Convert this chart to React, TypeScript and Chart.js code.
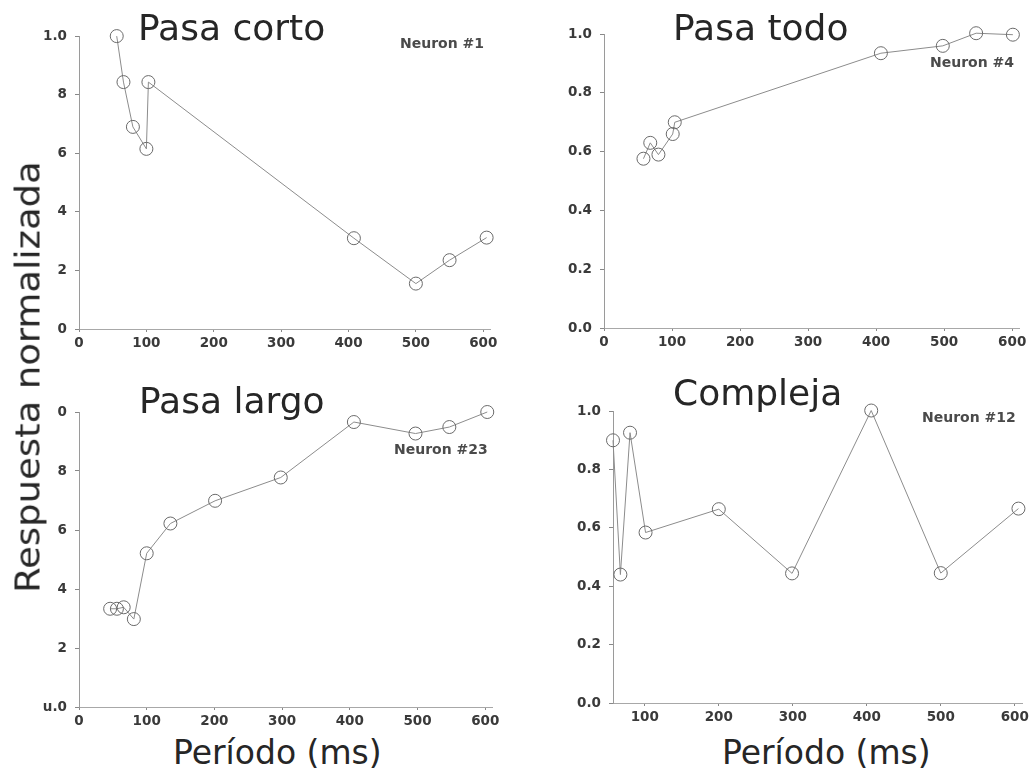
import { useEffect, useRef } from "react";
import { Chart, registerables } from "chart.js";

Chart.register(...registerables);

// ---------- data ----------
const xTicksFull = [0, 100, 200, 300, 400, 500, 600];
const xTicksFrom100 = [100, 200, 300, 400, 500, 600];
const yTickValues = [0, 0.2, 0.4, 0.6, 0.8, 1.0];

const cortoX = [56, 66, 80, 100, 103, 408, 500, 550, 605];
const cortoY = [1.0, 0.843, 0.69, 0.615, 0.843, 0.31, 0.155, 0.235, 0.312];

const todoX = [58, 68, 80, 101, 104, 407, 498, 547, 601];
const todoY = [0.576, 0.63, 0.59, 0.66, 0.70, 0.935, 0.96, 1.003, 0.998];

const largoX = [46, 56, 66, 81, 100, 135, 201, 298, 406, 497, 547, 603];
const largoY = [0.333, 0.333, 0.338, 0.298, 0.521, 0.622, 0.699, 0.778, 0.966, 0.927, 0.949, 1.0];

const complejaX = [57, 67, 80, 101, 200, 299, 406, 500, 605];
const complejaY = [0.9, 0.44, 0.926, 0.584, 0.664, 0.444, 1.002, 0.445, 0.666];

const yLabelsCorto = ["0", "2", "4", "6", "8", "1.0"];
const yLabelsTodo = ["0.0", "0.2", "0.4", "0.6", "0.8", "1.0"];
const yLabelsLargo = ["u.0", "2", "4", "6", "8", "0"];
const yLabelsCompleja = ["0.0", "0.2", "0.4", "0.6", "0.8", "1.0"];

const titles = ["Pasa corto", "Pasa todo", "Pasa largo", "Compleja"];
const neurons = ["Neuron #1", "Neuron #4", "Neuron #23", "Neuron #12"];
const yAxisTitle = "Respuesta normalizada";
const xAxisTitle = "Período (ms)";

// ---------- layout ----------
type Box = { left: number; top: number; width: number; height: number };
type Area = { left: number; top: number; right: number; bottom: number };
type PanelDef = {
  xs: number[];
  ys: number[];
  xMin: number;
  xMax: number;
  xTicks: number[];
  yLabels: string[];
  box: Box;
  area: Area;
};

const panels: PanelDef[] = [
  {
    xs: cortoX, ys: cortoY, xMin: 0, xMax: 610, xTicks: xTicksFull, yLabels: yLabelsCorto,
    box: { left: 40, top: 20, width: 470, height: 345 },
    area: { left: 79, top: 35, right: 490, bottom: 329 },
  },
  {
    xs: todoX, ys: todoY, xMin: 0, xMax: 610, xTicks: xTicksFull, yLabels: yLabelsTodo,
    box: { left: 565, top: 18, width: 467, height: 347 },
    area: { left: 604, top: 33, right: 1019, bottom: 328 },
  },
  {
    xs: largoX, ys: largoY, xMin: 0, xMax: 610, xTicks: xTicksFull, yLabels: yLabelsLargo,
    box: { left: 40, top: 395, width: 470, height: 335 },
    area: { left: 79, top: 412, right: 492, bottom: 707 },
  },
  {
    xs: complejaX, ys: complejaY, xMin: 57, xMax: 610, xTicks: xTicksFrom100, yLabels: yLabelsCompleja,
    box: { left: 565, top: 395, width: 467, height: 335 },
    area: { left: 613, top: 410, right: 1023, bottom: 703 },
  },
];

const FONT = "'DejaVu Sans', Verdana, sans-serif";

function Panel({ def }: { def: PanelDef }) {
  const ref = useRef<HTMLCanvasElement | null>(null);
  useEffect(() => {
    if (!ref.current) return;
    const { box, area } = def;
    const yW = area.left - box.left;
    const padTop = area.top - box.top;
    const padRight = box.left + box.width - area.right;
    const xH = box.top + box.height - area.bottom;
    const tickFont = { family: FONT, size: 13.5, weight: "bold" as const };
    const chart = new Chart(ref.current, {
      type: "scatter",
      data: {
        datasets: [
          {
            data: def.xs.map((x, i) => ({ x, y: def.ys[i] })),
            showLine: true,
            borderColor: "#8c8c8c",
            borderWidth: 1,
            pointRadius: 6.5,
            pointBorderWidth: 1,
            pointBorderColor: "#6a6a6a",
            pointBackgroundColor: "rgba(0,0,0,0)",
            clip: false as any,
          },
        ],
      },
      options: {
        animation: false,
        responsive: false,
        devicePixelRatio: 1,
        layout: { autoPadding: false, padding: { left: 0, top: padTop, right: padRight, bottom: 0 } },
        plugins: { legend: { display: false }, tooltip: { enabled: false } },
        scales: {
          x: {
            type: "linear",
            min: def.xMin,
            max: def.xMax,
            afterFit: (s: any) => { s.height = xH; },
            afterBuildTicks: (s: any) => { s.ticks = def.xTicks.map((v) => ({ value: v })); },
            grid: { display: true, drawOnChartArea: false, drawTicks: true, tickLength: 3, color: "#888" },
            border: { display: true, color: "#a8a8a8", width: 1 },
            ticks: { font: tickFont, color: "#3a3a3a", padding: 3, maxRotation: 0, autoSkip: false },
          },
          y: {
            type: "linear",
            min: 0,
            max: 1,
            afterFit: (s: any) => { s.width = yW; },
            afterBuildTicks: (s: any) => { s.ticks = yTickValues.map((v) => ({ value: v })); },
            grid: { display: true, drawOnChartArea: false, drawTicks: true, tickLength: 4, color: "#888" },
            border: { display: true, color: "#9a9a9a", width: 1 },
            ticks: {
              font: tickFont,
              color: "#3a3a3a",
              padding: 8,
              autoSkip: false,
              callback: (_v: any, i: number) => def.yLabels[i],
            },
          },
        },
      },
    });
    return () => chart.destroy();
  }, [def]);
  const { box } = def;
  return (
    <canvas
      ref={ref}
      width={box.width}
      height={box.height}
      style={{ position: "absolute", left: box.left, top: box.top, width: box.width, height: box.height }}
    />
  );
}

function Txt({ text, left, baseline, size, bold, color }: { text: string; left: number; baseline: number; size: number; bold?: boolean; color: string }) {
  return (
    <div
      style={{
        position: "absolute",
        left,
        top: baseline - 0.846 * size,
        fontFamily: FONT,
        fontSize: size,
        lineHeight: 1,
        fontWeight: bold ? "bold" : "normal",
        color,
        whiteSpace: "nowrap",
      }}
    >
      {text}
    </div>
  );
}

const titlePos = [
  { left: 138, baseline: 40 },
  { left: 673, baseline: 40 },
  { left: 139, baseline: 413 },
  { left: 673, baseline: 405 },
];
const neuronPos = [
  { left: 400, baseline: 48 },
  { left: 930, baseline: 66.5 },
  { left: 394, baseline: 454 },
  { left: 922, baseline: 422 },
];
const xTitlePos = [
  { left: 173, baseline: 763.5 },
  { left: 722, baseline: 763.5 },
];

export default function App() {
  return (
    <div style={{ position: "absolute", left: 0, top: 0, width: 1032, height: 777, background: "#fff", overflow: "hidden" }}>
      {panels.map((p, i) => (
        <Panel key={i} def={p} />
      ))}
      {titles.map((t, i) => (
        <Txt key={"t" + i} text={t} left={titlePos[i].left} baseline={titlePos[i].baseline} size={36} color="#262626" />
      ))}
      {neurons.map((t, i) => (
        <Txt key={"n" + i} text={t} left={neuronPos[i].left} baseline={neuronPos[i].baseline} size={14} bold color="#4a4a4a" />
      ))}
      {xTitlePos.map((p, i) => (
        <Txt key={"x" + i} text={xAxisTitle} left={p.left} baseline={p.baseline} size={33} color="#262626" />
      ))}
      <div
        style={{
          position: "absolute",
          left: 27.6,
          top: 376.5,
          transform: "translate(-50%, -50%) rotate(-90deg) scaleX(1.12)",
          fontFamily: FONT,
          fontSize: 33,
          lineHeight: 1,
          color: "#262626",
          whiteSpace: "nowrap",
        }}
      >
        {yAxisTitle}
      </div>
    </div>
  );
}
